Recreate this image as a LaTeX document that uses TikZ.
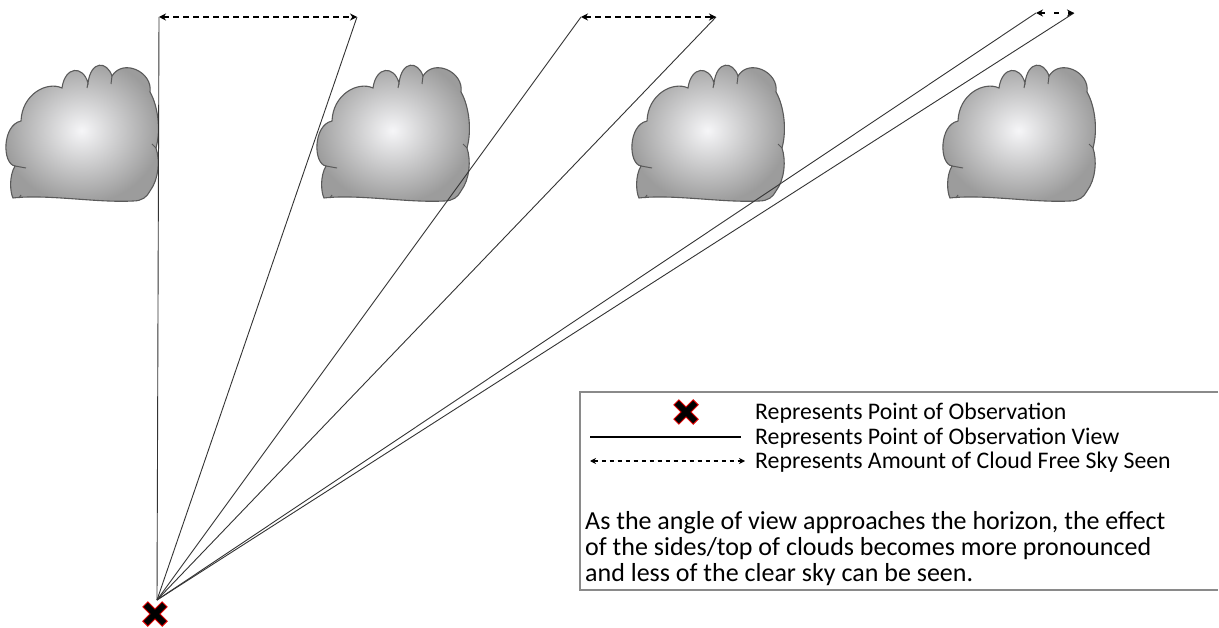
\documentclass[tikz,border=0pt]{standalone}
\usepackage{fontspec}
\setmainfont{Carlito}
\usetikzlibrary{arrows.meta}
\definecolor{cloudedge}{HTML}{5A5A5A}
\definecolor{cloudout}{HTML}{9C9C9C}
\definecolor{cloudin}{HTML}{F6F6F8}
\definecolor{boxedge}{HTML}{8A8A8A}
\tikzset{
  sightline/.style={draw=black!80, line width=0.9pt},
  freesky/.style={draw=black, line width=1.5pt, dash pattern=on 6pt off 4pt,
    {Stealth[length=7pt,width=7pt]}-{Stealth[length=7pt,width=7pt]}},
  legendtext/.style={anchor=west, inner sep=0pt, font=\fontsize{23.8}{28}\selectfont},
  notetext/.style={anchor=west, inner sep=0pt, font=\fontsize{26}{30}\selectfont},
  cloud/.pic={
    \shade[inner color=cloudin, outer color=cloudout, draw=cloudedge, line width=1.1pt]
      (6,134) .. controls (40,130) and (90,139) .. (126,137)
      .. controls (135,137) and (140,133) .. (143,127)
      .. controls (152,115) and (153,96) .. (149,84)
      .. controls (154,66) and (151,42) .. (143,28)
      .. controls (146,8) and (116,-6) .. (105,12)
      .. controls (100,-3) and (84,-4) .. (81,19)
      .. controls (76,1) and (58,2) .. (55,24)
      .. controls (40,17) and (15,30) .. (14,57)
      .. controls (-5,61) and (-5,100) .. (8,102)
      .. controls (2,112) and (3,128) .. (6,134) -- cycle;
    \draw[cloudedge, line width=1pt] (8,102) -- (19,104) (149,84) -- (145,80)
      (105,12) -- (104,20) (81,19) -- (80,24) (12,134) -- (14,131);
  },
  obsmark/.pic={
    \draw[red!85!black, line width=8pt] (-10,-10) -- (10,10) (-10,10) -- (10,-10);
    \draw[black, line width=6pt] (-9.2,-9.2) -- (9.2,9.2) (-9.2,9.2) -- (9.2,-9.2);
  }
}
\begin{document}
\begin{tikzpicture}[x=1pt,y=-1pt]
\useasboundingbox (0,0) rectangle (1219,628);

% clouds
\pic at (7,64) {cloud};
\pic at (318,64) {cloud};
\pic at (633,64) {cloud};
\pic at (944,64) {cloud};

% point of observation and view limits
\coordinate (eye) at (157,600);
\coordinate (a1) at (159,17);
\coordinate (a2) at (357,17);
\coordinate (b1) at (581,17);
\coordinate (b2) at (716,17);
\coordinate (c1) at (1036,13);
\coordinate (c2) at (1074,13);

\draw[sightline] (eye) -- (a1);
\draw[sightline] (eye) -- (a2);
\draw[sightline] (eye) -- (b1);
\draw[sightline] (eye) -- (b2);
\draw[sightline] (eye) -- (c1);
\draw[sightline] (eye) -- (c2);

\draw[freesky] (a1) -- (a2);
\draw[freesky] (b1) -- (b2);
\draw[freesky, dash pattern=on 5pt off 9pt] (c1) -- (c2);

\pic at (155,614) {obsmark};

% legend
\draw[boxedge, line width=1.3pt] (1218,392) -- (580,392) -- (580,590) -- (1218,590);
\pic at (686,412) {obsmark};
\coordinate (la) at (590,437);
\coordinate (lb) at (741,437);
\draw[black, line width=1.2pt] (la) -- (lb);
\coordinate (lc) at (590,461);
\coordinate (ld) at (745,461);
\draw[black, line width=1.2pt, dash pattern=on 4pt off 4pt,
  {Stealth[length=6pt,width=6pt]}-{Stealth[length=6pt,width=6pt]}] (lc) -- (ld);

\node[legendtext] (k1) at (755,413) {Represents Point of Observation};
\node[legendtext] (k2) at (755,438) {Represents Point of Observation View};
\node[legendtext] (k3) at (755,462) {Represents Amount of Cloud Free Sky Seen};

\node[notetext] (p1) at (585,523) {As the angle of view approaches the horizon, the effect};
\node[notetext] (p2) at (585,549) {of the sides/top of clouds becomes more pronounced};
\node[notetext] (p3) at (585,575) {and less of the clear sky can be seen.};
\end{tikzpicture}
\end{document}
